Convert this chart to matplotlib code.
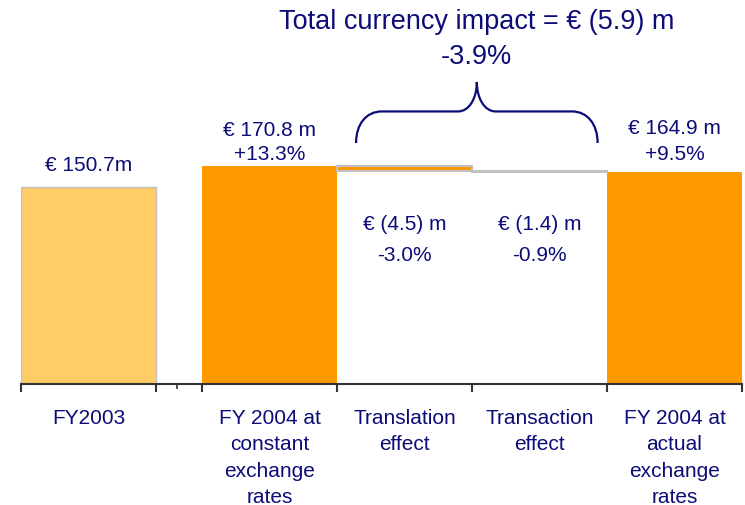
import numpy as np
import matplotlib
matplotlib.use("Agg")
import matplotlib.pyplot as plt
from matplotlib.path import Path
from matplotlib.patches import PathPatch
import matplotlib.transforms as mtransforms

plt.rcParams['font.family'] = ['Liberation Sans', 'DejaVu Sans']

# data (EUR m)
categories = ['FY2003', 'FY 2004 at\nconstant\nexchange\nrates', 'Translation\neffect',
              'Transaction\neffect', 'FY 2004 at\nactual\nexchange\nrates']
fy2003 = 150.7
fy2004_const = 170.8
translation = -4.5
transaction = -1.4
fy2004_actual = 164.9

value_labels = ['€ 150.7m', '€ 170.8 m', '€ (4.5) m', '€ (1.4) m', '€ 164.9 m']
pct_labels = [None, '+13.3%', '-3.0%', '-0.9%', '+9.5%']
total_label = 'Total currency impact = € (5.9) m'
total_pct = '-3.9%'

NAVY = '#0c0c78'
ORANGE = '#ff9900'
LIGHT = '#ffcc66'
GREY = '#c0c0c0'
FS = 15

fig = plt.figure(figsize=(7.45, 5.06), dpi=100)
ax = fig.add_axes([21/745, 121/506, 721/745, 385/506])
ymin, ymax = -37.8, 330.6
ax.set_ylim(ymin, ymax)
ax.set_xlim(-0.5, 4.843)

x = np.array([0, 1.343, 2.343, 3.343, 4.343])
w = 1.0

# full bars
ax.bar(x[0], fy2003 - ymin, bottom=ymin, width=w, color=LIGHT, edgecolor=GREY, lw=1)
ax.bar(x[1], fy2004_const - ymin, bottom=ymin, width=w, color=ORANGE, lw=0)
ax.bar(x[4], fy2004_actual - ymin, bottom=ymin, width=w, color=ORANGE, lw=0)
# floating bars
t_top = fy2004_const
t_bot = fy2004_const + translation
ax.bar(x[2], t_top - t_bot, bottom=t_bot, width=w, color=ORANGE, edgecolor=GREY, lw=1.5)
ax.bar(x[3], -transaction, bottom=t_bot + transaction, width=w, color='white',
       edgecolor=GREY, lw=1.5)

# axes styling
for s in ['left', 'right', 'top']:
    ax.spines[s].set_visible(False)
ax.spines['bottom'].set_color('#333333')
ax.spines['bottom'].set_linewidth(1.5)
ax.set_yticks([])
edges = [-0.5, 0.5, 0.843, 1.843, 2.843, 3.843, 4.843]
ax.set_xticks(edges)
ax.set_xticklabels([])
ax.tick_params(axis='x', direction='out', length=6, width=1.5, color='#333333')
ax.set_xticks([0.656], minor=True)
ax.tick_params(axis='x', which='minor', direction='out', length=3.5, width=1.2, color='#333333')

# category labels
trans = mtransforms.blended_transform_factory(ax.transData, ax.transAxes)
for xi, c in zip(x, categories):
    ax.text(xi, -24/385, c, transform=trans, ha='center', va='top', fontsize=FS,
            color=NAVY, linespacing=1.5, multialignment='center')

# value labels
ax.text(x[0], 172.7, value_labels[0], ha='center', va='center', fontsize=FS, color=NAVY)
ax.text(x[1], 205.5, value_labels[1], ha='center', va='center', fontsize=FS, color=NAVY)
ax.text(x[1], 183.0, pct_labels[1], ha='center', va='center', fontsize=FS, color=NAVY)
ax.text(x[4], 208.0, value_labels[4], ha='center', va='center', fontsize=FS, color=NAVY)
ax.text(x[4], 183.0, pct_labels[4], ha='center', va='center', fontsize=FS, color=NAVY)
for i in (2, 3):
    ax.text(x[i], 115.5, value_labels[i], ha='center', va='center', fontsize=FS, color=NAVY)
    ax.text(x[i], 86.5, pct_labels[i], ha='center', va='center', fontsize=FS, color=NAVY)

# brace over the two currency effects
xl = x[2] - w/2 + 0.14
xr = x[3] + w/2 - 0.07
xm = (xl + xr) / 2
y0, y1, y2 = 192.8, 223.0, 251.2
rx, rc = 0.19, 0.14
verts = [(xl, y0),
         (xl, y0 + (y1 - y0)*0.6), (xl + rx*0.4, y1), (xl + rx, y1),
         (xm - rc, y1),
         (xm - rc*0.4, y1), (xm, y1 + (y2 - y1)*0.45), (xm, y2),
         (xm, y1 + (y2 - y1)*0.45), (xm + rc*0.4, y1), (xm + rc, y1),
         (xr - rx, y1),
         (xr - rx*0.4, y1), (xr, y0 + (y1 - y0)*0.6), (xr, y0)]
codes = [Path.MOVETO,
         Path.CURVE4, Path.CURVE4, Path.CURVE4,
         Path.LINETO,
         Path.CURVE4, Path.CURVE4, Path.CURVE4,
         Path.CURVE4, Path.CURVE4, Path.CURVE4,
         Path.LINETO,
         Path.CURVE4, Path.CURVE4, Path.CURVE4]
ax.add_patch(PathPatch(Path(verts, codes), fill=False, edgecolor=NAVY, lw=1.6,
                       clip_on=False))

ax.text(xm, 309.5, total_label, ha='center', va='center', fontsize=19.5, color=NAVY)
ax.text(xm, 276.0, total_pct, ha='center', va='center', fontsize=19.5, color=NAVY)

fig.savefig('out.png', dpi=100)
